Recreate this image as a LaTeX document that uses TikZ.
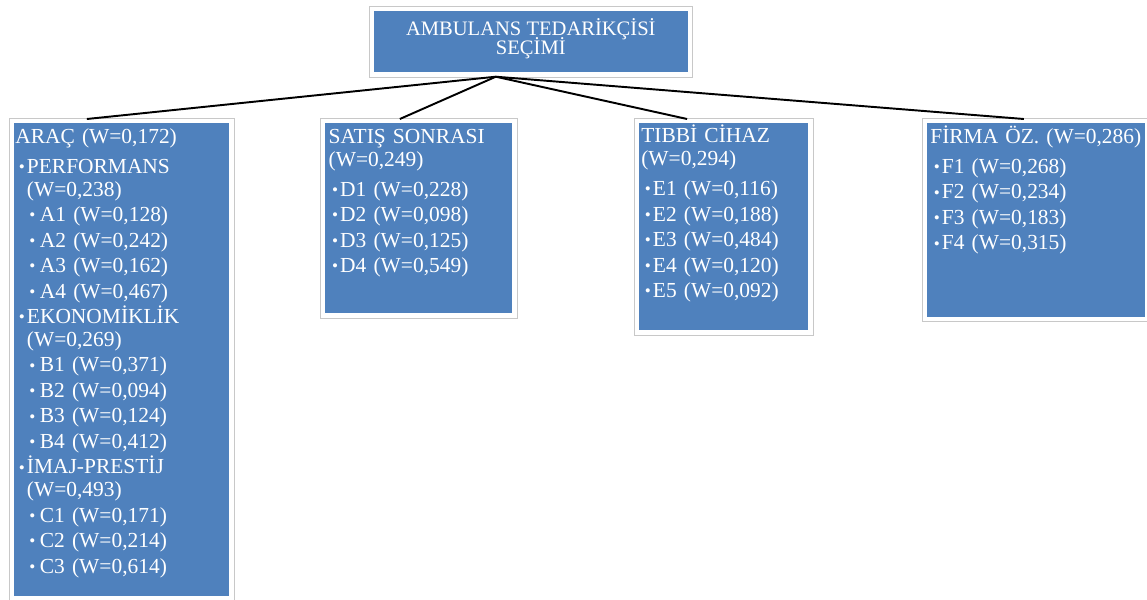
\documentclass[tikz,border=0pt]{standalone}
\usepackage{fontspec}
\setmainfont{Liberation Serif}
\usetikzlibrary{positioning}
\definecolor{boxblue}{HTML}{4F81BD}
\definecolor{framegray}{HTML}{C8C8C8}
\tikzstyle{box}=[shape=rectangle, anchor=north west, fill=boxblue, draw=white, line width=2.4pt, preaction={draw=framegray, line width=3.4pt}]
\tikzstyle{boxtext}=[anchor=base west, inner sep=0pt, text=white, align=left, text width=4.7cm, font=\fontsize{12.2}{13}\selectfont]
\tikzstyle{titletext}=[inner sep=0pt, text=white, align=center, font=\fontsize{11.7}{14}\selectfont]
\tikzstyle{edge}=[line width=1.1pt]
\newcommand{\dotmark}{\raisebox{0.4pt}{\scalebox{0.8}{\textbullet}}}
\newcommand{\itemA}[1]{\hspace*{2pt}\makebox[4.6pt][l]{\dotmark}#1}
\newcommand{\wrapA}[1]{\hspace*{6.6pt}#1}
\newcommand{\itemB}[1]{\hspace*{8pt}\makebox[6pt][l]{\dotmark}#1}

\begin{document}
\begin{tikzpicture}[x=0.02cm, y=0.02cm]
            \useasboundingbox (0,0) rectangle (1147,-599);
            \node[box, minimum width=6.37cm, minimum height=1.32cm] (title) at (369.5,-6.5) {};
            \node[box, minimum width=4.39cm, minimum height=9.55cm] (arac) at (10,-119) {};
            \node[box, minimum width=3.83cm, minimum height=3.89cm] (satis) at (321,-119) {};
            \node[box, minimum width=3.48cm, minimum height=4.23cm] (tibbi) at (634.5,-119) {};
            \node[box, minimum width=4.45cm, minimum height=3.96cm] (firma) at (922.5,-119) {};
            \node[titletext] (titletxt) at ([shift={(0,3)}]title.center) {AMBULANS TEDARİKÇİSİ\\[-3.2pt]SEÇİMİ};
            \node[boxtext] (aractxt) at ([shift={(5,-24.3)}]arac.north west) {ARAÇ (W=0,172)\\[4.1pt]
                \itemA{PERFORMANS}\\
                \wrapA{(W=0,238)}\\[1.5pt]
                \itemB{A1 (W=0,128)}\\[1.5pt]
                \itemB{A2 (W=0,242)}\\[1.5pt]
                \itemB{A3 (W=0,162)}\\[1.5pt]
                \itemB{A4 (W=0,467)}\\[1.5pt]
                \itemA{EKONOMİKLİK}\\
                \wrapA{(W=0,269)}\\[1.5pt]
                \itemB{B1 (W=0,371)}\\[1.5pt]
                \itemB{B2 (W=0,094)}\\[1.5pt]
                \itemB{B3 (W=0,124)}\\[1.5pt]
                \itemB{B4 (W=0,412)}\\[1.5pt]
                \itemA{İMAJ-PRESTİJ}\\
                \wrapA{(W=0,493)}\\[1.5pt]
                \itemB{C1 (W=0,171)}\\[1.5pt]
                \itemB{C2 (W=0,214)}\\[1.5pt]
                \itemB{C3 (W=0,614)}};
            \node[boxtext] (satistxt) at ([shift={(7.3,-24.3)}]satis.north west) {SATIŞ SONRASI\\
                (W=0,249)\\[4.1pt]
                \itemA{D1 (W=0,228)}\\[1.5pt]
                \itemA{D2 (W=0,098)}\\[1.5pt]
                \itemA{D3 (W=0,125)}\\[1.5pt]
                \itemA{D4 (W=0,549)}};
            \node[boxtext] (tibbitxt) at ([shift={(6.5,-23.7)}]tibbi.north west) {TIBBİ CİHAZ\\
                (W=0,294)\\[4.1pt]
                \itemA{E1 (W=0,116)}\\[1.5pt]
                \itemA{E2 (W=0,188)}\\[1.5pt]
                \itemA{E3 (W=0,484)}\\[1.5pt]
                \itemA{E4 (W=0,120)}\\[1.5pt]
                \itemA{E5 (W=0,092)}};
            \node[boxtext] (firmatxt) at ([shift={(7.5,-24.3)}]firma.north west) {FİRMA ÖZ. (W=0,286)\\[4.1pt]
                \itemA{F1 (W=0,268)}\\[1.5pt]
                \itemA{F2 (W=0,234)}\\[1.5pt]
                \itemA{F3 (W=0,183)}\\[1.5pt]
                \itemA{F4 (W=0,315)}};
            \coordinate (hub) at ([shift={(-35,0)}]title.south);
            \draw[edge] (hub) -- ([shift={(-35,0)}]arac.north);
            \draw[edge] (hub) -- ([shift={(-19,0)}]satis.north);
            \draw[edge] (hub) -- ([shift={(-36.5,0)}]tibbi.north);
            \draw[edge] (hub) -- ([shift={(-12,0)}]firma.north);
        \end{tikzpicture}
\end{document}
